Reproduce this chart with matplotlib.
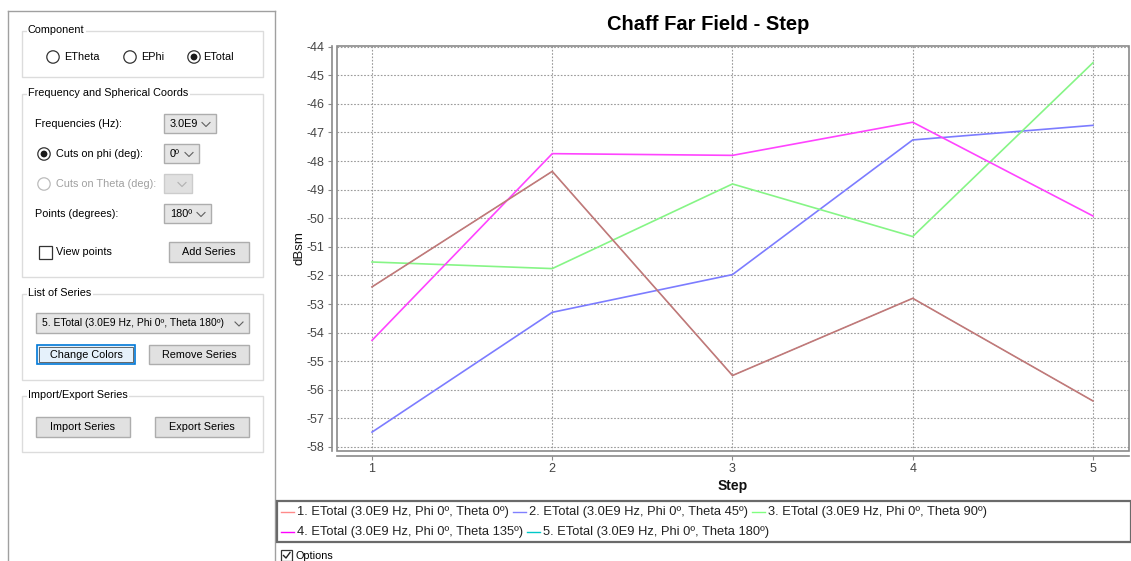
import matplotlib
matplotlib.use("Agg")
import matplotlib.pyplot as plt
from matplotlib.patches import Rectangle, Circle

# ---------------- data ----------------
steps = [1, 2, 3, 4, 5]
series_labels = [
    "1. ETotal (3.0E9 Hz, Phi 0º, Theta 0º)",
    "2. ETotal (3.0E9 Hz, Phi 0º, Theta 45º)",
    "3. ETotal (3.0E9 Hz, Phi 0º, Theta 90º)",
    "4. ETotal (3.0E9 Hz, Phi 0º, Theta 135º)",
    "5. ETotal (3.0E9 Hz, Phi 0º, Theta 180º)",
]
theta0 = [-52.40, -48.36, -55.50, -52.80, -56.39]
theta45 = [-57.48, -53.29, -51.97, -47.26, -46.75]
theta90 = [-51.53, -51.76, -48.80, -50.64, -44.56]
theta135 = [-54.27, -47.74, -47.80, -46.64, -49.92]
theta180 = [-52.40, -48.36, -55.50, -52.80, -56.39]
series_values = [theta0, theta45, theta90, theta135, theta180]
legend_colors = ["#ff8a8a", "#8080ff", "#80ff80", "#ff00ff", "#00c8c8"]
line_colors = ["#c47878", "#7c7cff", "#86f586", "#ff44ff", "#00c8c8"]
y_ticks = list(range(-58, -43))
x_ticks = [1, 2, 3, 4, 5]

W, H = 1131, 561
fig = plt.figure(figsize=(W / 100, H / 100), dpi=100)
fig.patch.set_facecolor("white")

UI_FONT = "Liberation Sans"
UI_SIZE = 7.8

# overlay axes in pixel coordinates for the UI panel
ov = fig.add_axes([0, 0, 1, 1], zorder=0)
ov.set_xlim(0, W)
ov.set_ylim(H, 0)
ov.axis("off")


def rect(x0, y0, x1, y1, fc="none", ec="#dcdcdc", lw=1.0, z=1):
    ov.add_patch(Rectangle((x0, y0), x1 - x0, y1 - y0, facecolor=fc,
                           edgecolor=ec, linewidth=lw, zorder=z))


def txt(x, y, s, color="#000000", size=UI_SIZE, ha="left", weight="normal",
        bg=None):
    kw = {}
    if bg:
        kw["bbox"] = dict(facecolor=bg, edgecolor="none", pad=1.0)
    ov.text(x, y, s, color=color, fontsize=size, ha=ha, va="center",
            family=UI_FONT, fontweight=weight, zorder=5, **kw)


def chevron(cx, cy, color="#606060"):
    ov.plot([cx - 4, cx, cx + 4], [cy - 2, cy + 2, cy - 2], color=color,
            lw=0.8, zorder=6)


def combo(x0, y0, x1, y1, label, enabled=True, size=UI_SIZE):
    if enabled:
        rect(x0, y0, x1, y1, fc="#e5e5e5", ec="#adadad", z=3)
        txt(x0 + 6, (y0 + y1) / 2, label, size=size)
        chevron(x1 - 10, (y0 + y1) / 2 + 1)
    else:
        rect(x0, y0, x1, y1, fc="#e0e0e0", ec="#cccccc", z=3)
        chevron(x1 - 10, (y0 + y1) / 2 + 1, color="#b0b0b0")


def button(x0, y0, x1, y1, label, focused=False):
    if focused:
        rect(x0, y0, x1, y1, fc="#e5f1fb", ec="#0078d7", lw=1.2, z=3)
        rect(x0 + 2, y0 + 2, x1 - 2, y1 - 2, fc="none", ec="#303030",
             lw=0.5, z=4)
    else:
        rect(x0, y0, x1, y1, fc="#e1e1e1", ec="#adadad", z=3)
    txt((x0 + x1) / 2, (y0 + y1) / 2, label, ha="center")


def radio(cx, cy, selected=False, enabled=True):
    ec = "#333333" if enabled else "#bcbcbc"
    ov.add_patch(Circle((cx, cy), 6.2, facecolor="white", edgecolor=ec,
                        lw=0.9, zorder=4))
    if selected:
        ov.add_patch(Circle((cx, cy), 3.4, facecolor="#1a1a1a",
                            edgecolor="none", zorder=5))


def checkbox(x0, y0, x1, y1, checked=False):
    rect(x0, y0, x1, y1, fc="white", ec="#333333", lw=0.9, z=4)
    if checked:
        ov.plot([x0 + 2.5, x0 + 5, x1 - 2], [(y0 + y1) / 2, y1 - 3, y0 + 2.5],
                color="#222222", lw=1.0, zorder=6)


# outer panel
ov.plot([8, 8], [11, H + 2], color="#a0a0a0", lw=1.0, zorder=2)
ov.plot([8, 275], [11, 11], color="#a0a0a0", lw=1.0, zorder=2)
ov.plot([275, 275], [11, H + 2], color="#a0a0a0", lw=1.0, zorder=2)

# group: Component
rect(22, 31, 263, 77)
txt(28, 30, "Component", bg="white")
radio(53, 57)
txt(64, 57, "ETheta")
radio(130, 57)
txt(141, 57, "EPhi")
radio(194, 57, selected=True)
txt(203, 57, "ETotal")

# group: Frequency and Spherical Coords
rect(22, 94, 263, 277)
txt(28, 93, "Frequency and Spherical Coords", bg="white")
txt(35, 124, "Frequencies (Hz):")
combo(164, 114, 216, 133, "3.0E9")
radio(44, 154, selected=True)
txt(56, 154, "Cuts on phi (deg):")
combo(164, 144, 199, 163, "0º")
radio(44, 184, enabled=False)
txt(56, 184, "Cuts on Theta (deg):", color="#a0a0a0")
combo(164, 174, 192, 193, "", enabled=False)
txt(35, 214, "Points (degrees):")
combo(164, 204, 211, 223, "180º")
checkbox(39, 246, 52, 259)
txt(56, 252, "View points")
button(169, 242, 249, 262, "Add Series")

# group: List of Series
rect(22, 294, 263, 380)
txt(28, 293, "List of Series", bg="white")
combo(36, 313, 249, 333, series_labels[4], size=7.5)
button(37, 345, 135, 364, "Change Colors", focused=True)
button(149, 345, 249, 364, "Remove Series")

# group: Import/Export Series
rect(22, 396, 263, 452)
txt(28, 395, "Import/Export Series", bg="white")
button(36, 417, 130, 437, "Import Series")
button(155, 417, 249, 437, "Export Series")

# ---------------- chart ----------------
left_px, right_px, top_px, bot_px = 336.5, 1129, 46, 451
ax = fig.add_axes([left_px / W, (H - bot_px) / H, (right_px - left_px) / W,
                   (bot_px - top_px) / H], zorder=2)
ax.set_facecolor("white")
ax.patch.set_alpha(0)

# series 5 first (thin, hidden beneath), then the others; series 1 on top
order = [4, 1, 2, 3, 0]
for i in order:
    ax.plot(steps, series_values[i], color=line_colors[i],
            lw=0.5 if i == 4 else 1.2, solid_joinstyle="miter", zorder=3)

ax.set_xlim(0.803, 5.200)
ax.set_ylim(-58.14, -43.975)
ax.set_xticks(x_ticks)
ax.set_yticks(y_ticks)
ax.set_xticklabels([str(v) for v in x_ticks])
ax.set_yticklabels([str(v) for v in y_ticks])
ax.grid(True, color="#9a9a9a", linestyle=(0, (1.5, 1.5)), linewidth=0.8)
ax.set_axisbelow(True)

# frame around plot area
ax.add_patch(Rectangle((0, 0), 1, 1, transform=ax.transAxes, facecolor="none",
                       edgecolor="#8a8a8a", lw=1.2, zorder=4, clip_on=False))
for s in ["top", "right"]:
    ax.spines[s].set_visible(False)
for s in ["left", "bottom"]:
    ax.spines[s].set_position(("outward", 3.5))
    ax.spines[s].set_color("#8a8a8a")
    ax.spines[s].set_linewidth(1.2)
ax.tick_params(axis="both", colors="#8a8a8a", length=3, width=0.8,
               labelcolor="#444444", labelsize=9, pad=2)
for lab in ax.get_xticklabels() + ax.get_yticklabels():
    lab.set_family("Liberation Sans")

ax.set_ylabel("dBsm", fontsize=9.5, family="Liberation Sans", color="#111111",
              labelpad=1)
ax.set_xlabel("Step", fontsize=10, family="Liberation Sans", fontweight="bold",
              color="#111111", labelpad=3)

fig.text(708 / W, 1 - 24 / H, "Chaff Far Field - Step", ha="center",
         va="center", fontsize=14.5, fontweight="bold",
         family="Liberation Sans", color="#000000")

# ---------------- legend (manual, like the app) ----------------
rect(277, 501, 1131, 542, fc="white", ec="#6a6a6a", lw=1.6, z=2)
rows = [[0, 1, 2], [3, 4]]
row_y = [512, 532]
fig.canvas.draw()
renderer = fig.canvas.get_renderer()
LEG_SIZE = 9.25
for r, idxs in enumerate(rows):
    x = 281
    for i in idxs:
        ov.plot([x, x + 13], [row_y[r], row_y[r]], color=legend_colors[i],
                lw=1.0, zorder=6)
        t = ov.text(x + 16, row_y[r], series_labels[i], fontsize=LEG_SIZE,
                    family=UI_FONT, va="center", ha="left", color="#222222",
                    zorder=6)
        bb = t.get_window_extent(renderer=renderer)
        x = x + 16 + bb.width + 4

# Options checkbox
checkbox(281, 550, 292, 561, checked=True)
txt(295, 556, "Options", size=7.8)

fig.savefig("out.png", dpi=100, facecolor="white")
